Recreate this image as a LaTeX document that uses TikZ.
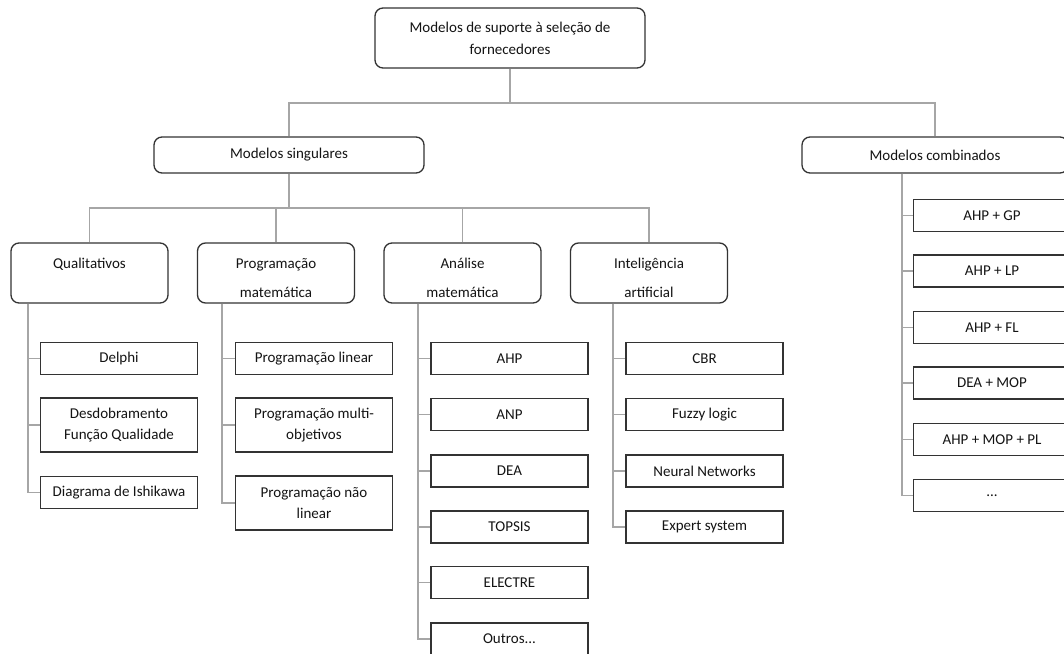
\documentclass[tikz,border=0pt]{standalone}
\usepackage{fontspec}
\setmainfont{Carlito}
\usetikzlibrary{calc}
\definecolor{linegray}{HTML}{A6A6A6}
\definecolor{boxgray}{HTML}{333333}
\definecolor{txt}{HTML}{141414}
\tikzset{
  conn/.style={draw=linegray, line width=1.4pt},
  rbox/.style={draw=boxgray, line width=1.3pt, rounded corners=8pt, fill=white,
    align=center, inner sep=0pt, text=txt, font=\fontsize{15}{18}\selectfont},
  catbox/.style={rbox, minimum width=157pt, minimum height=60pt},
  leaf/.style={draw=boxgray, line width=1.3pt, fill=white, minimum width=157pt,
    minimum height=32pt, align=center, inner sep=0pt, text=txt,
    font=\fontsize{15}{18}\selectfont},
}
\begin{document}
\begin{tikzpicture}[x=1pt,y=-1pt]
\useasboundingbox (0,0) rectangle (1064,653);
\clip (0,0) rectangle (1064,653);
\fill[white] (0,0) rectangle (1064,653);

% level 0 and 1
\node[rbox, minimum width=270pt, minimum height=60pt] (top) at (510,38)
  {Modelos de suporte à seleção de\\[4pt]fornecedores};
\node[rbox, minimum width=270pt, minimum height=36pt] (sing) at (289,155) {Modelos singulares};
\node[rbox, minimum width=266pt, minimum height=36pt] (comb) at (935,155) {Modelos combinados};

% categories
\node[catbox] (qual) at (89.5,273) {\rule{0pt}{20pt}Qualitativos\\[11pt]\mbox{}};
\node[catbox] (prog) at (276,273) {\rule{0pt}{20pt}Programação\\[11pt]matemática};
\node[catbox] (anal) at (462.5,273) {\rule{0pt}{20pt}Análise\\[11pt]matemática};
\node[catbox] (intel) at (649,273) {\rule{0pt}{20pt}Inteligência\\[11pt]artificial};

% leaves: qualitativos
\node[leaf] (delphi) at (119,358.5) {Delphi};
\node[leaf, minimum height=54pt] (qfd) at (119,425) {Desdobramento\\[3pt]Função Qualidade};
\node[leaf] (ishi) at (119,492.5) {Diagrama de Ishikawa};
% programacao
\node[leaf] (pl) at (314,358.5) {Programação linear};
\node[leaf, minimum height=54pt] (pmo) at (314,425) {Programação multi-\\[3pt]objetivos};
\node[leaf, minimum height=54pt] (pnl) at (314,503) {Programação não\\[3pt]linear};
% analise
\node[leaf] (ahp) at (509.5,358.5) {AHP};
\node[leaf] (anp) at (509.5,414.5) {ANP};
\node[leaf] (dea) at (509.5,471) {DEA};
\node[leaf] (topsis) at (509.5,527) {TOPSIS};
\node[leaf] (electre) at (509.5,582.5) {ELECTRE};
\node[leaf] (outros) at (509.5,639) {Outros...};
% inteligencia
\node[leaf] (cbr) at (704.5,358.5) {CBR};
\node[leaf] (fuzzy) at (704.5,414.5) {Fuzzy logic};
\node[leaf] (nn) at (704.5,471) {Neural Networks};
\node[leaf] (es) at (704.5,527) {Expert system};
% combinados
\node[leaf] (c1) at (992,215.5) {AHP + GP};
\node[leaf] (c2) at (992,271) {AHP + LP};
\node[leaf] (c3) at (992,327.5) {AHP + FL};
\node[leaf] (c4) at (992,383) {DEA + MOP};
\node[leaf] (c5) at (992,439.5) {AHP + MOP + PL};
\node[leaf] (c6) at (992,495.5) {...};

% helper coordinates
\coordinate (h1) at (0,103);
\coordinate (h2) at (0,208);
\coordinate (tq) at (28,0);
\coordinate (tp) at (222,0);
\coordinate (ta) at (418,0);
\coordinate (ti) at (613,0);
\coordinate (tc) at (902,0);

% level connectors
\draw[conn] (top.south) -- (top.south |- h1) -| (sing.north);
\draw[conn] (top.south |- h1) -| (comb.north);
\draw[conn] (sing.south) -- (sing.south |- h2) -| (qual.north);
\draw[conn] (sing.south |- h2) -| (intel.north);
\draw[conn] (prog.north) -- (prog.north |- h2);
\draw[conn] (anal.north) -- (anal.north |- h2);

% leaf connectors
\foreach \l in {delphi,qfd,ishi} \draw[conn] (qual.south -| tq) |- (\l.west);
\foreach \l in {pl,pmo,pnl} \draw[conn] (prog.south -| tp) |- (\l.west);
\foreach \l in {ahp,anp,dea,topsis,electre,outros} \draw[conn] (anal.south -| ta) |- (\l.west);
\foreach \l in {cbr,fuzzy,nn,es} \draw[conn] (intel.south -| ti) |- (\l.west);
\foreach \l in {c1,c2,c3,c4,c5,c6} \draw[conn] (comb.south -| tc) |- (\l.west);
\end{tikzpicture}
\end{document}
